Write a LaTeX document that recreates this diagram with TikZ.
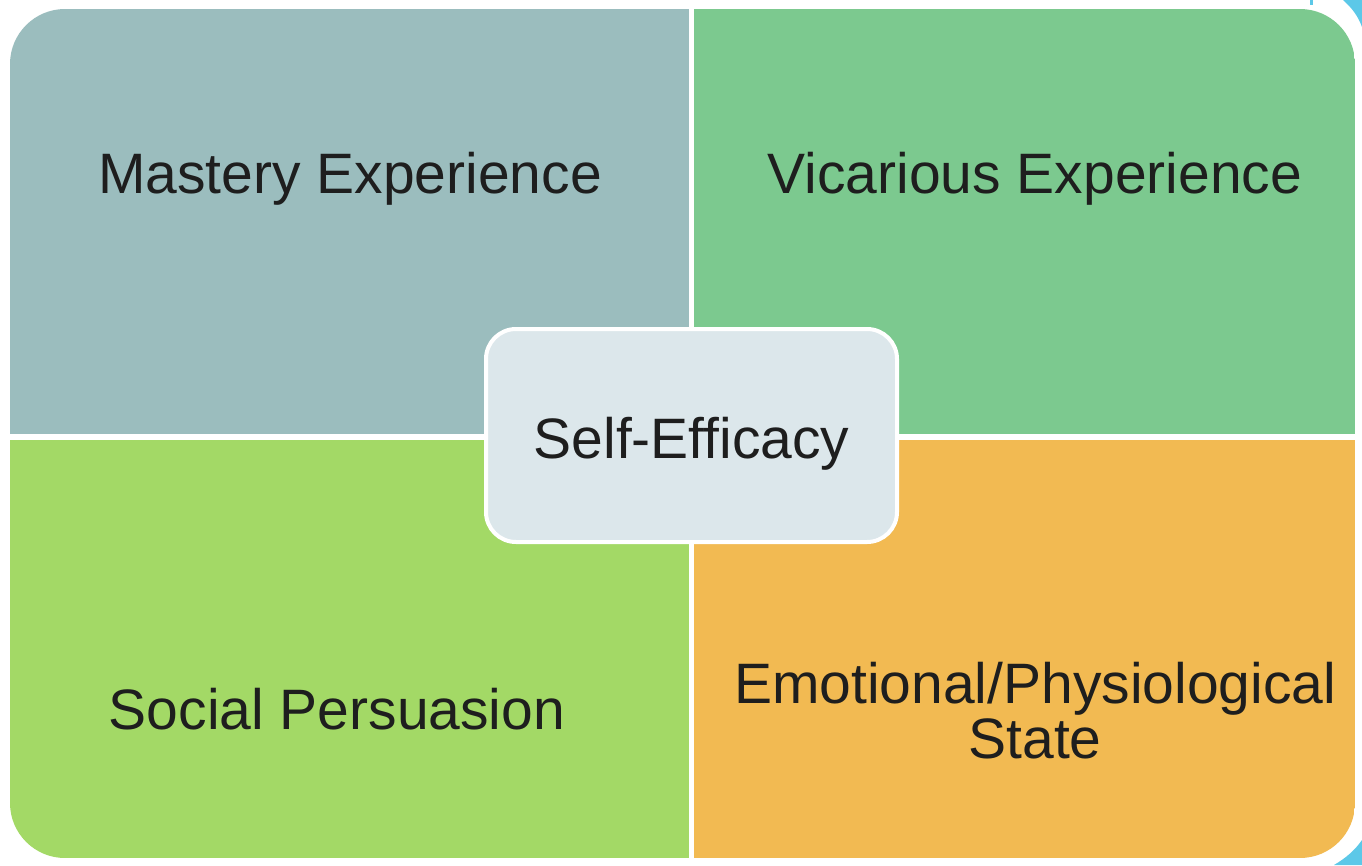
\documentclass[tikz,border=0pt]{standalone}
\usepackage{fontspec}
\setmainfont{Liberation Sans}
\definecolor{qtl}{RGB}{155,189,190}
\definecolor{qtr}{RGB}{124,201,143}
\definecolor{qbl}{RGB}{163,217,102}
\definecolor{qbr}{RGB}{242,186,82}
\definecolor{cbox}{RGB}{220,231,235}
\definecolor{deco}{RGB}{92,200,232}
\definecolor{txt}{RGB}{30,30,30}
\tikzset{
  label/.style={text=txt,font=\fontsize{57}{64}\selectfont,align=center,inner sep=0pt},
  centerbox/.style={fill=cbox,draw=white,line width=4pt,rounded corners=30pt,minimum width=411pt,minimum height=213pt,inner sep=0pt}
}
\begin{document}
\begin{tikzpicture}[x=1pt,y=-1pt]
\useasboundingbox (0,0) rectangle (1362,865);
\fill[white] (0,0) rectangle (1362,865);
% decorations
\fill[deco] (1343,0) .. controls (1352,8) and (1358,16) .. (1362,27) -- (1362,0) -- cycle;
\fill[deco] (1310,0) rectangle (1313,5);
\fill[deco] (1334,865) .. controls (1346,858) and (1355,850) .. (1362,840) -- (1362,865) -- cycle;
% quadrants
\begin{scope}
\clip[rounded corners=55pt] (10,9) rectangle (1355,858);
\fill[qtl] (10,9) rectangle (689,434);
\fill[qtr] (694,9) rectangle (1355,434);
\fill[qbl] (10,440) rectangle (689,858);
\fill[qbr] (694,440) rectangle (1355,858);
\end{scope}
\node[label,anchor=base] (mastery) at (350,193) {Mastery Experience};
\node[label,anchor=base] (vicarious) at (1035,193) {Vicarious Experience};
\node[label,anchor=base] (social) at (337,729) {Social Persuasion};
\node[label,anchor=base] (emotional) at (1035,703) {Emotional/Physiological};
\node[label,anchor=base] (state) at (1035,758) {State};
\node[centerbox] (box) at (691.5,435.5) {};
\node[label,anchor=base] (self) at (691.5,458) {Self-Efficacy};
\end{tikzpicture}
\end{document}
